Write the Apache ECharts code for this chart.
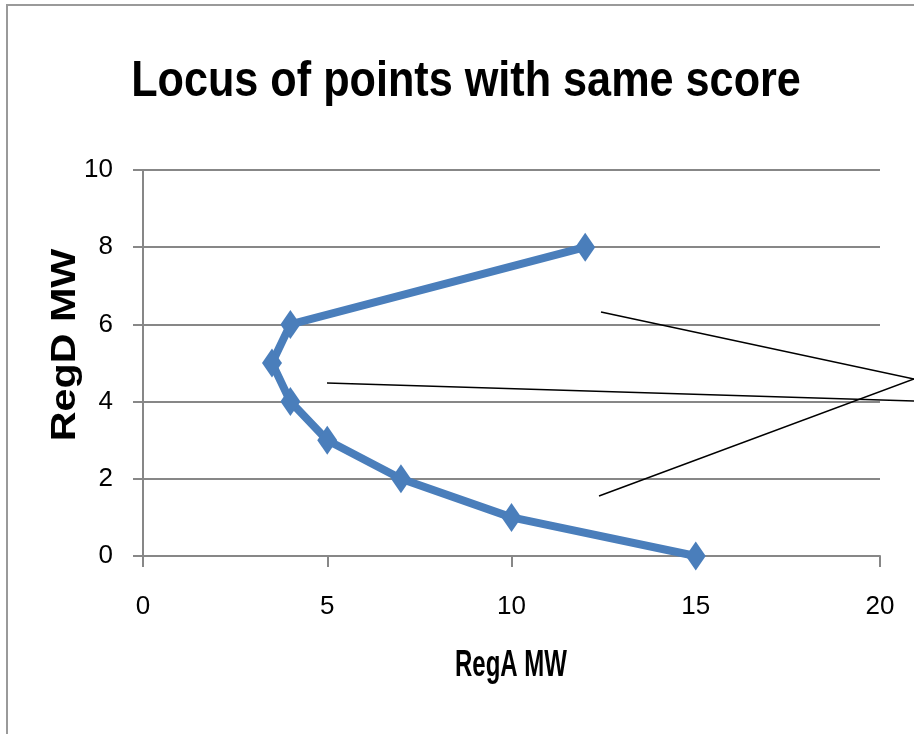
<!DOCTYPE html>
<html>
<head>
<meta charset="utf-8">
<script src="https://cdn.jsdelivr.net/npm/echarts@6/dist/echarts.min.js"></script>
<style>
  html, body { margin: 0; padding: 0; background: #fff; }
  #chart { width: 914px; height: 734px; }
</style>
</head>
<body>
<div id="chart"></div>
<script>
// RegA MW (x) and RegD MW (y) along the locus
const regA = [15, 10, 7, 5, 4, 3.5, 4, 12];
const regD = [0, 1, 2, 3, 4, 5, 6, 8];
const xTicks = [0, 5, 10, 15, 20];
const yTicks = [0, 2, 4, 6, 8, 10];

const sans = "'Liberation Sans', Arial, sans-serif";
const gridGray = '#878787';

const chart = echarts.init(document.getElementById('chart'));
const option = {
  backgroundColor: '#fff',
  animation: false,
  grid: {
    left: 143,
    right: 34,
    top: 170,
    bottom: 178
  },
  xAxis: {
    type: 'value',
    min: xTicks[0],
    max: xTicks[xTicks.length - 1],
    interval: 5,
    axisLine: { lineStyle: { color: gridGray, width: 2 } },
    axisTick: { show: true, length: 11, lineStyle: { color: gridGray, width: 2 } },
    splitLine: { show: false },
    axisLabel: {
      margin: 38,
      fontFamily: sans,
      fontSize: 26,
      color: '#000'
    }
  },
  yAxis: {
    type: 'value',
    min: yTicks[0],
    max: yTicks[yTicks.length - 1],
    interval: 2,
    axisLine: { show: true, lineStyle: { color: gridGray, width: 2 } },
    axisTick: { show: true, length: 10, lineStyle: { color: gridGray, width: 2 } },
    splitLine: { lineStyle: { color: gridGray, width: 2 } },
    axisLabel: {
      margin: 30,
      fontFamily: sans,
      fontSize: 26,
      color: '#000'
    }
  },
  series: [{
    type: 'line',
    data: regA.map((a, i) => [a, regD[i]]),
    lineStyle: { color: '#4A7EBB', width: 8 },
    itemStyle: { color: '#4A7EBB' },
    symbol: 'diamond',
    symbolSize: [20, 29],
    z: 3
  }],
  graphic: [
    // chart frame
    {
      type: 'rect',
      shape: { x: 7, y: 5, width: 1000, height: 1000 },
      style: { fill: 'none', stroke: '#9a9a9a', lineWidth: 2 },
      silent: true
    },
    // title
    {
      type: 'text',
      x: 466,
      y: 82,
      scaleX: 0.9,
      scaleY: 1.05,
      style: {
        text: 'Locus of points with same score',
        fontFamily: sans,
        fontWeight: 'bold',
        fontSize: 48,
        fill: '#000',
        align: 'center',
        verticalAlign: 'middle'
      }
    },
    // axis titles
    {
      type: 'text',
      x: 511,
      y: 666,
      scaleY: 1.5,
      style: {
        text: 'RegA MW',
        fontFamily: sans,
        fontWeight: 'bold',
        fontSize: 24,
        fill: '#000',
        align: 'center',
        verticalAlign: 'middle'
      }
    },
    {
      type: 'text',
      x: 65,
      y: 345,
      rotation: Math.PI / 2,
      scaleX: 1.18,
      style: {
        text: 'RegD MW',
        fontFamily: sans,
        fontWeight: 'bold',
        fontSize: 35,
        fill: '#000',
        align: 'center',
        verticalAlign: 'middle'
      }
    },
    // callout lines
    {
      type: 'line',
      shape: { x1: 601, y1: 312, x2: 914, y2: 379 },
      style: { stroke: '#000', lineWidth: 1.5 },
      z: 10
    },
    {
      type: 'line',
      shape: { x1: 599, y1: 496, x2: 914, y2: 379 },
      style: { stroke: '#000', lineWidth: 1.5 },
      z: 10
    },
    {
      type: 'line',
      shape: { x1: 327, y1: 383, x2: 914, y2: 401 },
      style: { stroke: '#000', lineWidth: 1.5 },
      z: 10
    }
  ]
};
chart.setOption(option);
</script>
</body>
</html>
